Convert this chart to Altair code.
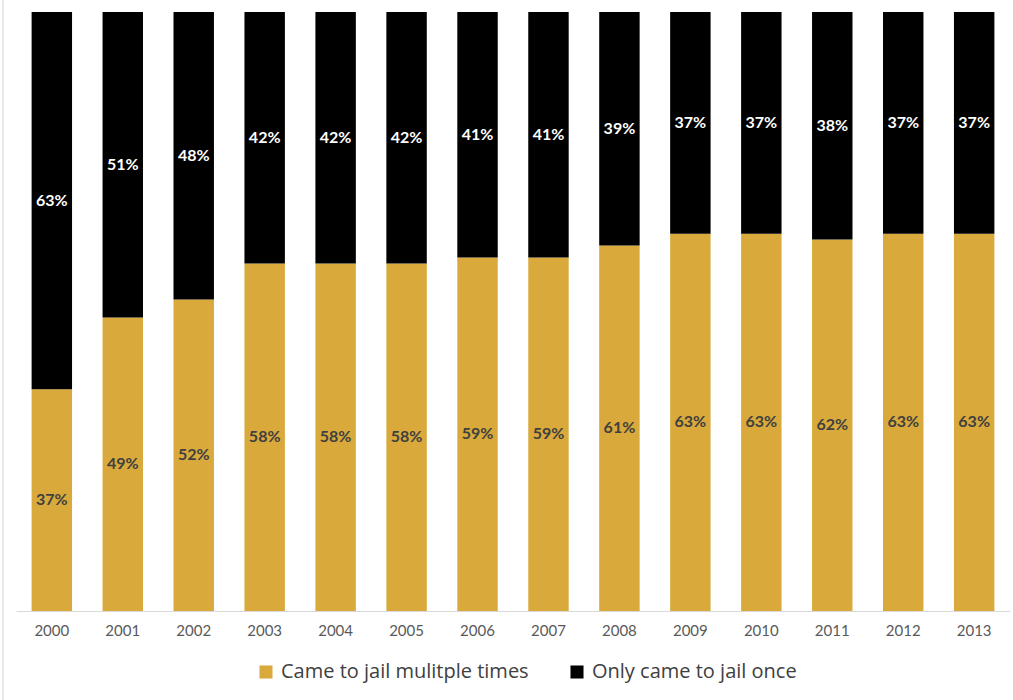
import altair as alt
import pandas as pd

years = ["2000", "2001", "2002", "2003", "2004", "2005", "2006",
         "2007", "2008", "2009", "2010", "2011", "2012", "2013"]
multiple = [37, 49, 52, 58, 58, 58, 59, 59, 61, 63, 63, 62, 63, 63]
once = [63, 51, 48, 42, 42, 42, 41, 41, 39, 37, 37, 38, 37, 37]
series = ["Came to jail mulitple times", "Only came to jail once"]
colors = ["#D9AA3B", "#000000"]
label_colors = ["#404040", "#FFFFFF"]

rows = []
for i, y in enumerate(years):
    rows.append({"year": y, "series": series[0], "value": multiple[i], "ord": 0,
                 "label": f"{multiple[i]}%"})
    rows.append({"year": y, "series": series[1], "value": once[i], "ord": 1,
                 "label": f"{once[i]}%"})
df = pd.DataFrame(rows)

FONT = "Lato"

base = alt.Chart(df).transform_stack(
    stack="value", groupby=["year"], as_=["v0", "v1"],
    sort=[alt.SortField("ord", order="ascending")]
).transform_calculate(mid="(datum.v0 + datum.v1) / 2")

xenc = alt.X("year:O", sort=years, title=None,
             scale=alt.Scale(paddingInner=0.43, paddingOuter=0.22),
             axis=alt.Axis(labelAngle=0, ticks=False, domainColor="#D9D9D9",
                           domainWidth=1, labelFont=FONT, labelFontSize=15,
                           labelColor="#595959", labelPadding=12))
yscale = alt.Scale(domain=[0, 100], nice=False, zero=True)

bars = base.mark_bar().encode(
    x=xenc,
    y=alt.Y("v0:Q", scale=yscale, axis=None),
    y2="v1:Q",
    color=alt.Color("series:N", scale=alt.Scale(domain=series, range=colors),
                    legend=alt.Legend(title=None, orient="none", legendX=240,
                                      legendY=650, direction="horizontal",
                                      columns=2, symbolType="square",
                                      symbolSize=170, symbolStrokeWidth=0,
                                      labelFont="Open Sans", labelFontSize=20,
                                      labelColor="#404040", labelOffset=5,
                                      labelLimit=0,
                                      columnPadding=38, padding=0)),
)

texts = base.mark_text(font=FONT, fontSize=16, fontWeight="bold").encode(
    x=alt.X("year:O", sort=years),
    y=alt.Y("mid:Q", scale=yscale),
    text="label:N",
    color=alt.Color("series:N", scale=alt.Scale(domain=series, range=label_colors),
                    legend=None),
)

edge = alt.Chart(pd.DataFrame({"a": [0]})).mark_rule(color="#D6D6D6", strokeWidth=1).encode(
    x=alt.value(-13), y=alt.value(-12), y2=alt.value(688)
)

chart = alt.layer(bars, texts, edge).resolve_scale(color="independent").properties(
    width=994, height=599,
    autosize=alt.AutoSizeParams(type="none"),
    padding={"left": 16, "top": 12, "right": 3, "bottom": 89},
    view=alt.ViewBackground(stroke="transparent", strokeWidth=0),
).configure_view(strokeWidth=0, stroke="transparent").configure(background="#FFFFFF")

chart.save("out.html", embed_options={"renderer": "svg", "actions": False})
